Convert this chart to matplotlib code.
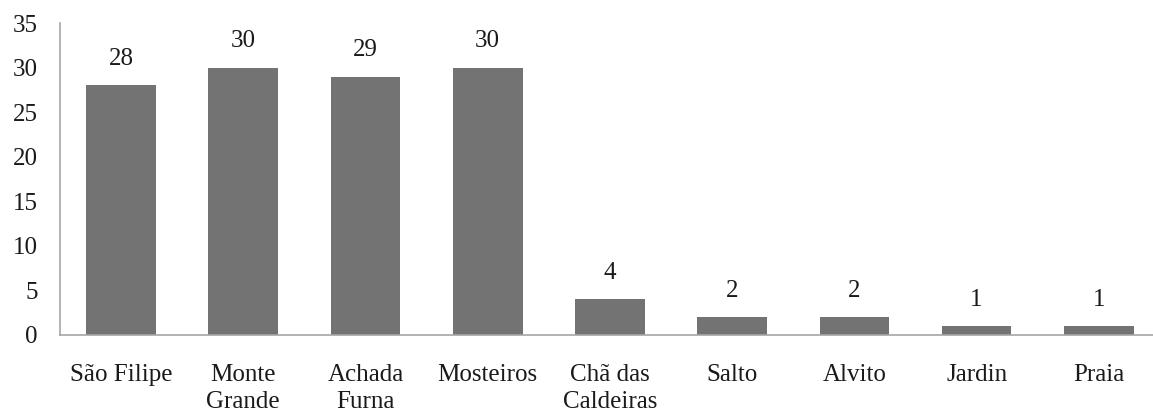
import matplotlib
matplotlib.use("Agg")
import matplotlib.pyplot as plt

# Datos del grafico
localidades = ["São Filipe", "Monte\nGrande", "Achada\nFurna", "Mosteiros",
               "Chã das\nCaldeiras", "Salto", "Alvito", "Jardin", "Praia"]
valores = [28, 30, 29, 30, 4, 2, 2, 1, 1]

plt.rcParams["font.family"] = ["Liberation Serif", "DejaVu Serif"]

fig = plt.figure(figsize=(11.53, 4.12), dpi=100)
ax = fig.add_axes([0.052, 0.187, 0.954, 0.757])

posiciones = range(len(localidades))
ax.bar(posiciones, valores, width=0.57, color="#737373")
for x, v in zip(posiciones, valores):
    ax.annotate(str(v), (x, v), xytext=(0, 11), textcoords="offset points",
                ha="center", va="bottom", fontsize=18, color="#1a1a1a")

ax.set_xlim(-0.5, len(localidades) - 0.5)
ax.set_ylim(0, 35)
ax.set_yticks(range(0, 36, 5))
ax.set_xticks(list(posiciones))
ax.set_xticklabels(localidades, fontsize=18, color="#1a1a1a", linespacing=1.28)
ax.tick_params(axis="y", labelsize=18, labelcolor="#1a1a1a", length=0, pad=16)
ax.tick_params(axis="x", length=0, pad=21)
for lado in ["top", "right"]:
    ax.spines[lado].set_visible(False)
for lado in ["left", "bottom"]:
    ax.spines[lado].set_color("#a6a6a6")
    ax.spines[lado].set_linewidth(1.2)

fig.savefig("out.png", dpi=100)
